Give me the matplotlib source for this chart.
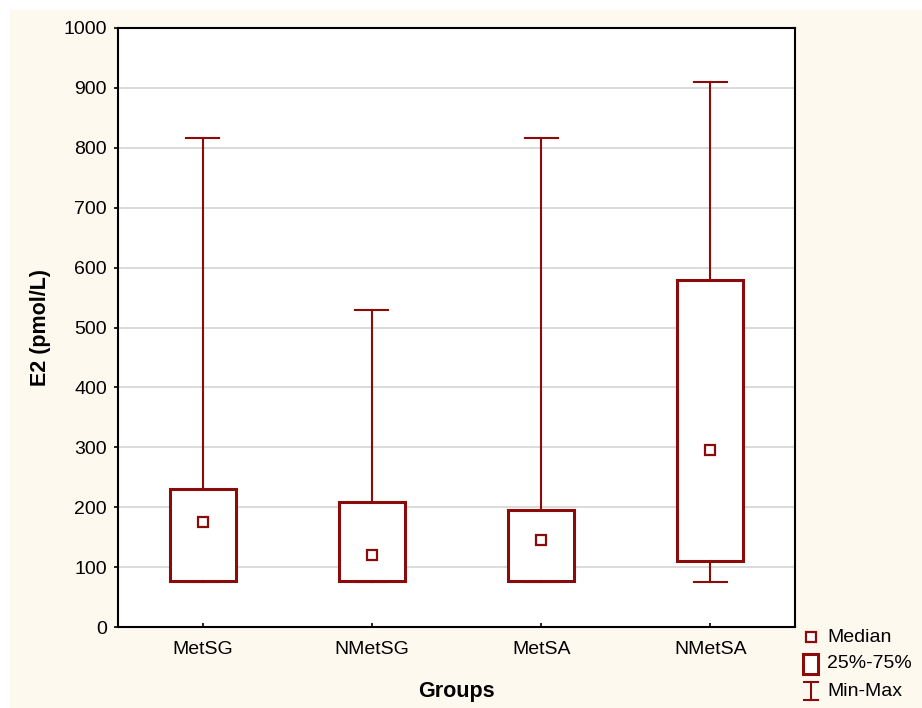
import matplotlib.pyplot as plt
from matplotlib.lines import Line2D
from matplotlib.patches import Rectangle

plt.rcParams['font.family'] = ['Liberation Sans', 'DejaVu Sans']

# Values (pmol/L)
groups = ['MetSG', 'NMetSG', 'MetSA', 'NMetSA']
mins = [75, 75, 75, 75]
q1s = [77, 77, 77, 110]
medians = [175, 120, 145, 295]
q3s = [230, 208, 195, 580]
maxs = [817, 530, 817, 910]

red = '#8B0A0A'
cream = '#FEF9EF'

fig = plt.figure(figsize=(9.22, 7.08), dpi=100, facecolor='white')
fig.patches.append(Rectangle((10 / 922, 0), 1, 1 - 10 / 708, transform=fig.transFigure,
                             facecolor=cream, edgecolor='none', zorder=-10))
ax = fig.add_axes([118 / 922, 1 - 627 / 708, 677 / 922, 599 / 708])
ax.set_facecolor('white')

stats = []
for g, lo, a, m, b, hi in zip(groups, mins, q1s, medians, q3s, maxs):
    stats.append(dict(label=g, whislo=lo, q1=a, med=m, q3=b, whishi=hi))

pos = list(range(len(groups)))
ax.bxp(stats, positions=pos, widths=0.39, showfliers=False, patch_artist=True,
       boxprops=dict(facecolor='white', edgecolor=red, linewidth=2.2),
       whiskerprops=dict(color=red, linewidth=1.5),
       capprops=dict(color=red, linewidth=1.5),
       medianprops=dict(linewidth=0),
       capwidths=0.195, zorder=3)
ax.plot(pos, medians, linestyle='none', marker='s', markersize=6.5,
        markerfacecolor='white', markeredgecolor=red, markeredgewidth=1.6, zorder=4)

ax.set_xlim(-0.5, 3.5)
ax.set_ylim(0, 1000)
ax.set_yticks(range(0, 1001, 100))
ax.set_xticks(pos)
ax.set_xticklabels(groups)
ax.grid(axis='y', color='#d4d4d4', linewidth=1.2, zorder=0)
ax.set_axisbelow(True)
for s in ax.spines.values():
    s.set_linewidth(1.5)
    s.set_color('black')
ax.tick_params(axis='y', direction='out', length=3, width=1.2, labelsize=14, pad=5)
ax.tick_params(axis='x', direction='in', length=3, width=1.2, labelsize=14, pad=10)
ax.set_ylabel('E2 (pmol/L)', fontsize=15.5, fontweight='bold', labelpad=9)
ax.set_xlabel('Groups', fontsize=15.5, fontweight='bold', labelpad=17)

# legend drawn outside the axes, bottom right
def fx(x):
    return x / 922

def fy(y):
    return 1 - y / 708

fig.add_artist(Line2D([fx(811)], [fy(637)], marker='s', markersize=7, linestyle='none',
                      markerfacecolor='white', markeredgecolor=red, markeredgewidth=1.6,
                      transform=fig.transFigure))
fig.add_artist(Rectangle((fx(803), fy(674)), 15 / 922, 20 / 708, facecolor='white',
                         edgecolor=red, linewidth=2.2, transform=fig.transFigure))
fig.add_artist(Line2D([fx(811), fx(811)], [fy(682), fy(700)], color=red, linewidth=1.5,
                      transform=fig.transFigure))
fig.add_artist(Line2D([fx(804), fx(818)], [fy(682), fy(682)], color=red, linewidth=1.5,
                      transform=fig.transFigure))
fig.add_artist(Line2D([fx(804), fx(818)], [fy(700), fy(700)], color=red, linewidth=1.5,
                      transform=fig.transFigure))
for y, t in [(637, 'Median'), (664, '25%-75%'), (691, 'Min-Max')]:
    fig.text(fx(827), fy(y), t, fontsize=14, va='center', ha='left')

fig.savefig('out.png', dpi=100, facecolor=fig.get_facecolor())
